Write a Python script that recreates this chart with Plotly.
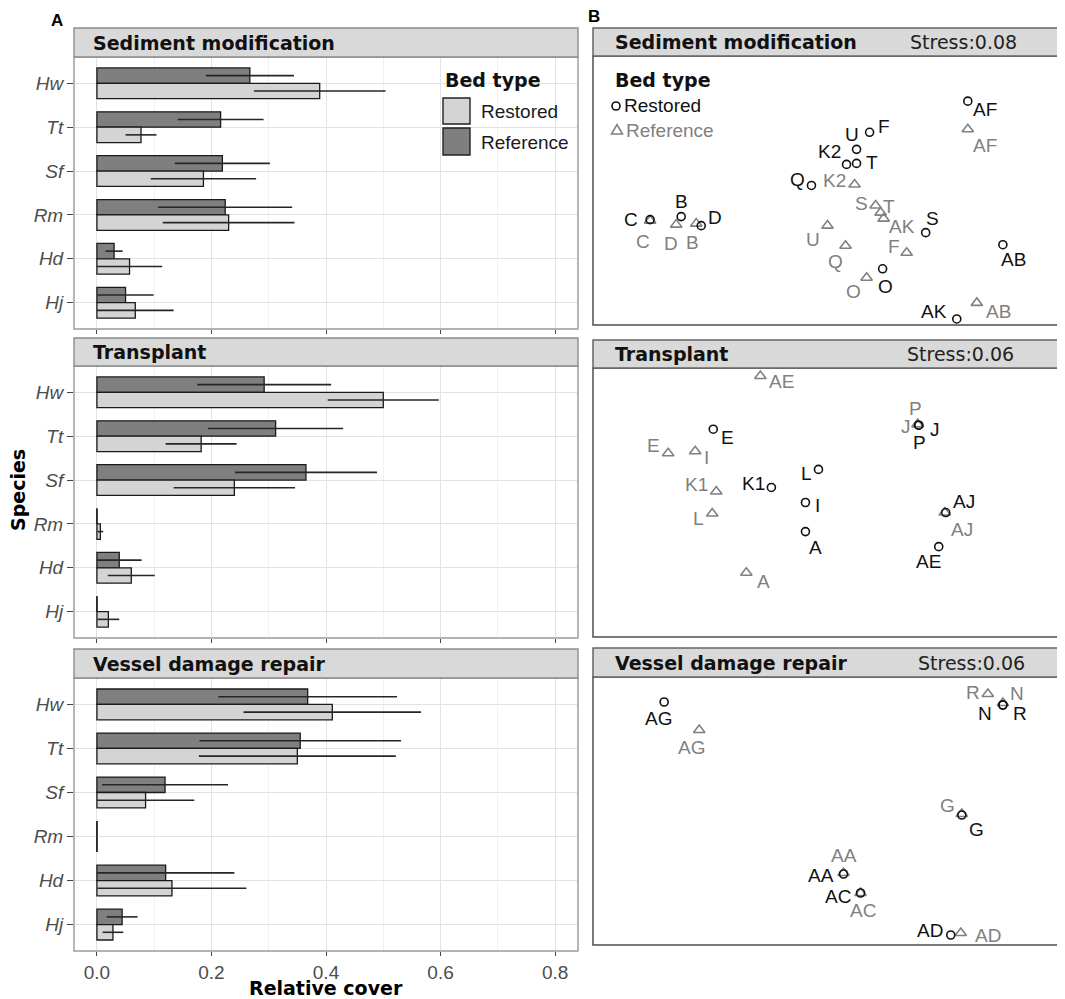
import plotly.graph_objects as go

# ---------------- data ----------------
species = ["Hw", "Tt", "Sf", "Rm", "Hd", "Hj"]
panels = ["Sediment modification", "Transplant", "Vessel damage repair"]
stress = ["Stress:0.08", "Stress:0.06", "Stress:0.06"]

ref_sed = [0.267, 0.216, 0.219, 0.224, 0.030, 0.050]
ref_sed_se = [0.077, 0.075, 0.083, 0.117, 0.015, 0.049]
rest_sed = [0.389, 0.077, 0.186, 0.230, 0.057, 0.067]
rest_sed_se = [0.115, 0.027, 0.092, 0.115, 0.057, 0.067]

ref_tra = [0.292, 0.312, 0.365, 0.0, 0.039, 0.0]
ref_tra_se = [0.117, 0.118, 0.124, 0.0, 0.039, 0.0]
rest_tra = [0.500, 0.182, 0.240, 0.006, 0.060, 0.020]
rest_tra_se = [0.097, 0.062, 0.106, 0.005, 0.041, 0.019]

ref_ves = [0.368, 0.355, 0.119, 0.0, 0.120, 0.044]
ref_ves_se = [0.156, 0.176, 0.110, 0.0, 0.120, 0.027]
rest_ves = [0.411, 0.350, 0.085, 0.0, 0.131, 0.028]
rest_ves_se = [0.155, 0.172, 0.085, 0.0, 0.130, 0.018]

# NMDS site scores
sed_rest_lab = ["AF", "F", "U", "K2", "T", "Q", "B", "D", "C", "S", "AB", "O", "AK"]
sed_rest_x = [1.40, 0.42, 0.29, 0.19, 0.29, -0.16, -1.46, -1.26, -1.77, 0.98, 1.75, 0.55, 1.29]
sed_rest_y = [0.89, 0.58, 0.41, 0.26, 0.27, 0.05, -0.26, -0.35, -0.29, -0.42, -0.54, -0.78, -1.28]
sed_ref_lab = ["AF", "K2", "S", "T", "AK", "C", "D", "B", "U", "Q", "F", "O", "AB"]
sed_ref_x = [1.40, 0.27, 0.48, 0.53, 0.56, -1.77, -1.51, -1.31, 0.00, 0.18, 0.79, 0.39, 1.49]
sed_ref_y = [0.61, 0.06, -0.15, -0.22, -0.28, -0.30, -0.34, -0.33, -0.35, -0.55, -0.62, -0.87, -1.12]

tra_rest_lab = ["E", "K1", "L", "I", "A", "J", "P", "AJ", "AE"]
tra_rest_x = [-1.14, -0.56, -0.09, -0.22, -0.22, 0.91, 0.91, 1.18, 1.11]
tra_rest_y = [0.73, 0.15, 0.33, 0.00, -0.29, 0.77, 0.77, -0.10, -0.44]
tra_ref_lab = ["AE", "E", "I", "K1", "L", "A", "J", "P", "AJ"]
tra_ref_x = [-0.67, -1.59, -1.32, -1.11, -1.15, -0.81, 0.90, 0.90, 1.17]
tra_ref_y = [1.26, 0.49, 0.51, 0.11, -0.11, -0.70, 0.78, 0.78, -0.10]

ves_rest_lab = ["AG", "N", "R", "G", "AA", "AC", "AD"]
ves_rest_x = [-1.63, 1.75, 1.75, 1.34, 0.16, 0.33, 1.23]
ves_rest_y = [1.09, 1.06, 1.06, -0.04, -0.63, -0.82, -1.24]
ves_ref_lab = ["AG", "R", "N", "G", "AA", "AC", "AD"]
ves_ref_x = [-1.28, 1.60, 1.75, 1.34, 0.16, 0.33, 1.33]
ves_ref_y = [0.81, 1.17, 1.08, -0.03, -0.62, -0.82, -1.22]

# label nudges in pixels (dx right, dy down) - repel-style placement
sed_rest_nudge = [(17, 8), (14, -6), (-5, -15), (-17, -13), (15, -1), (-14, -6), (0, -15),
                  (14, -8), (-19, 0), (7, -14), (11, 15), (3, 18), (-23, -7)]
sed_ref_nudge = [(17, 16), (-20, -4), (-14, -2), (8, -6), (18, 8), (-7, 21), (-5, 19),
                 (-4, 19), (-15, 14), (-10, 16), (-13, -6), (-13, 14), (22, 9)]
tra_rest_nudge = [(14, 8), (-18, -4), (-12, 4), (12, 3), (10, 16), (16, 4), (1, 17), (18, -11), (-10, 15)]
tra_ref_nudge = [(21, 5), (-15, -8), (11, 6), (-20, -7), (-14, 5), (17, 9), (-12, 2), (-2, -16), (17, 17)]
ves_rest_nudge = [(-6, 16), (-18, 8), (17, 8), (15, 14), (-23, 1), (-23, 3), (-21, -5)]
ves_ref_nudge = [(-8, 17), (-15, -2), (14, -10), (-14, -9), (0, -18), (2, 17), (27, 2)]

# ---------------- style ----------------
# the page body keeps the browser's default 8px margin, so the figure is drawn
# 8px smaller and all page-pixel positions are shifted by that margin
PAGE_W, PAGE_H, M = 1065, 999, 8
W, H = PAGE_W - M, PAGE_H - M
def fx(x): return (x - M) / W
def fy(y): return 1 - (y - M) / H

LIGHT = "#D4D4D4"
DARK = "#7F7F7F"
GRAYTXT = "#808080"
SANS = "Liberation Sans, Arial, sans-serif"
VERD = "DejaVu Sans, Verdana, sans-serif"
BW = 0.35

left_x = (74, 578)
left_plot = [(57, 329), (366, 638), (678, 951)]
left_strip = [(28, 57), (338, 366), (649, 678)]
right_x = (593, 1062)
right_plot = [(56, 325), (368, 637), (677, 945)]
right_strip = [(28, 56), (340, 368), (648, 677)]
stress_cx = [963, 960, 971]

fig = go.Figure()
shapes, ann = [], []

bars = [(ref_sed, ref_sed_se, rest_sed, rest_sed_se),
        (ref_tra, ref_tra_se, rest_tra, rest_tra_se),
        (ref_ves, ref_ves_se, rest_ves, rest_ves_se)]
pos = list(range(len(species)))

for i, (rv, rse, sv, sse) in enumerate(bars):
    xa = "x" if i == 0 else f"x{i+1}"
    ya = "y" if i == 0 else f"y{i+1}"
    fig.add_trace(go.Bar(x=rv, y=pos, orientation="h", width=BW, offset=-BW,
                         marker=dict(color=DARK, line=dict(color="#1a1a1a", width=1.3)),
                         xaxis=xa, yaxis=ya, showlegend=False, hoverinfo="skip"))
    fig.add_trace(go.Bar(x=sv, y=pos, orientation="h", width=BW, offset=0,
                         marker=dict(color=LIGHT, line=dict(color="#1a1a1a", width=1.3)),
                         xaxis=xa, yaxis=ya, showlegend=False, hoverinfo="skip"))
    ex, ey, zx, zy = [], [], [], []
    for k in pos:
        for v, e, yc, y0, y1 in ((rv[k], rse[k], k - BW / 2, k - BW, k),
                                 (sv[k], sse[k], k + BW / 2, k, k + BW)):
            if e > 0:
                ex += [max(0, v - e), v + e, None]
                ey += [yc, yc, None]
            if v == 0:
                zx += [0, 0, None]
                zy += [y0, y1, None]
    fig.add_trace(go.Scatter(x=ex, y=ey, mode="lines", line=dict(color="#262626", width=1.6),
                             xaxis=xa, yaxis=ya, showlegend=False, hoverinfo="skip"))
    if zx:
        fig.add_trace(go.Scatter(x=zx, y=zy, mode="lines", line=dict(color="#262626", width=1.6),
                                 xaxis=xa, yaxis=ya, showlegend=False, hoverinfo="skip"))

nmds = [
    (sed_rest_x, sed_rest_y, sed_rest_lab, sed_rest_nudge, sed_ref_x, sed_ref_y, sed_ref_lab, sed_ref_nudge),
    (tra_rest_x, tra_rest_y, tra_rest_lab, tra_rest_nudge, tra_ref_x, tra_ref_y, tra_ref_lab, tra_ref_nudge),
    (ves_rest_x, ves_rest_y, ves_rest_lab, ves_rest_nudge, ves_ref_x, ves_ref_y, ves_ref_lab, ves_ref_nudge),
]
for i, (rx, ry, rl, rn, qx, qy, ql, qn) in enumerate(nmds):
    xa, ya = f"x{i+4}", f"y{i+4}"
    fig.add_trace(go.Scatter(x=qx, y=qy, mode="markers",
                             marker=dict(symbol="triangle-up-open", size=10, color=GRAYTXT,
                                         line=dict(width=1.6, color=GRAYTXT)),
                             xaxis=xa, yaxis=ya, showlegend=False, hoverinfo="skip", cliponaxis=False))
    fig.add_trace(go.Scatter(x=rx, y=ry, mode="markers",
                             marker=dict(symbol="circle-open", size=8, color="#111",
                                         line=dict(width=1.6, color="#111")),
                             xaxis=xa, yaxis=ya, showlegend=False, hoverinfo="skip", cliponaxis=False))
    for xs_, ys_, ls_, ns_, col in ((qx, qy, ql, qn, GRAYTXT), (rx, ry, rl, rn, "#111")):
        for x, y, l, (dx, dy) in zip(xs_, ys_, ls_, ns_):
            ann.append(dict(x=x, y=y, xref=xa, yref=ya, text=l, showarrow=False,
                            xanchor="center", yanchor="middle", xshift=dx, yshift=-dy,
                            font=dict(family=SANS, size=19, color=col)))

layout = dict(width=W, height=H, margin=dict(l=0, r=0, t=0, b=0),
              paper_bgcolor="white", plot_bgcolor="white", barmode="overlay",
              font=dict(family=SANS, size=19, color="#4D4D4D"))

for i in range(3):
    xs = "xaxis" if i == 0 else f"xaxis{i+1}"
    ys = "yaxis" if i == 0 else f"yaxis{i+1}"
    t, b = left_plot[i]
    layout[xs] = dict(domain=[fx(left_x[0]), fx(left_x[1])], range=[-0.04, 0.84],
                      tick0=0, dtick=0.2, tickformat=".1f", showgrid=True, gridcolor="#E3E3E3", gridwidth=1,
                      minor=dict(dtick=0.1, showgrid=True, gridcolor="#F1F1F1", gridwidth=0.8),
                      ticks="outside", ticklen=4, tickcolor="#444", tickwidth=1,
                      showticklabels=(i == 2), zeroline=False, showline=False,
                      tickfont=dict(family=SANS, size=19, color="#4D4D4D"),
                      anchor="y" if i == 0 else f"y{i+1}")
    layout[ys] = dict(domain=[fy(b), fy(t)], range=[5.6, -0.6],
                      tickvals=pos, ticktext=[f"<i>{s}</i>" for s in species],
                      showgrid=True, gridcolor="#E3E3E3", gridwidth=1, zeroline=False,
                      ticks="outside", ticklen=6, tickcolor="#444", tickwidth=1,
                      tickfont=dict(family=SANS, size=19, color="#4D4D4D"),
                      anchor="x" if i == 0 else f"x{i+1}")
    shapes.append(dict(type="rect", xref="paper", yref="paper", x0=fx(left_x[0]), x1=fx(left_x[1]),
                       y0=fy(b), y1=fy(t), line=dict(color="#9A9A9A", width=1.4)))
    st, sb = left_strip[i]
    shapes.append(dict(type="rect", xref="paper", yref="paper", x0=fx(left_x[0]), x1=fx(left_x[1]),
                       y0=fy(sb), y1=fy(st), fillcolor="#D9D9D9", line=dict(color="#8C8C8C", width=1.4)))
    ann.append(dict(text=f"<b>{panels[i]}</b>", xref="paper", yref="paper", x=fx(91), y=fy((st + sb) / 2),
                    xanchor="left", yanchor="middle", showarrow=False,
                    font=dict(family=VERD, size=19, color="#111")))

    # right panels
    t, b = right_plot[i]
    layout[f"xaxis{i+4}"] = dict(domain=[fx(right_x[0]), fx(right_x[1])], range=[-2.34, 2.34],
                                 visible=False, anchor=f"y{i+4}")
    layout[f"yaxis{i+4}"] = dict(domain=[fy(b), fy(t)], range=[-1.34, 1.34],
                                 visible=False, anchor=f"x{i+4}")
    shapes.append(dict(type="rect", xref="paper", yref="paper", x0=fx(right_x[0]), x1=fx(right_x[1]),
                       y0=fy(b), y1=fy(t), line=dict(color="#4D4D4D", width=1.5)))
    st, sb = right_strip[i]
    shapes.append(dict(type="rect", xref="paper", yref="paper", x0=fx(right_x[0]), x1=fx(right_x[1]),
                       y0=fy(sb), y1=fy(st), fillcolor="#D9D9D9", line=dict(color="#666666", width=1.5)))
    ann.append(dict(text=f"<b>{panels[i]}</b>", xref="paper", yref="paper", x=fx(613), y=fy((st + sb) / 2),
                    xanchor="left", yanchor="middle", showarrow=False,
                    font=dict(family=VERD, size=19, color="#111")))
    ann.append(dict(text=stress[i], xref="paper", yref="paper", x=fx(stress_cx[i]), y=fy((st + sb) / 2),
                    xanchor="center", yanchor="middle", showarrow=False,
                    font=dict(family=VERD, size=19, color="#222")))

# left legend
ann.append(dict(text="<b>Bed type</b>", xref="paper", yref="paper", x=fx(443), y=fy(80),
                xanchor="left", yanchor="middle", showarrow=False, font=dict(family=VERD, size=19, color="#111")))
shapes.append(dict(type="rect", xref="paper", yref="paper", x0=fx(443), x1=fx(470), y0=fy(124), y1=fy(98),
                   fillcolor=LIGHT, line=dict(color="#222", width=1.4)))
shapes.append(dict(type="rect", xref="paper", yref="paper", x0=fx(443), x1=fx(470), y0=fy(155), y1=fy(128),
                   fillcolor=DARK, line=dict(color="#222", width=1.4)))
ann.append(dict(text="Restored", xref="paper", yref="paper", x=fx(479), y=fy(112),
                xanchor="left", yanchor="middle", showarrow=False, font=dict(family=SANS, size=19, color="#1a1a1a")))
ann.append(dict(text="Reference", xref="paper", yref="paper", x=fx(479), y=fy(142),
                xanchor="left", yanchor="middle", showarrow=False, font=dict(family=SANS, size=19, color="#1a1a1a")))

# right legend
ann.append(dict(text="<b>Bed type</b>", xref="paper", yref="paper", x=fx(613), y=fy(80),
                xanchor="left", yanchor="middle", showarrow=False, font=dict(family=VERD, size=19, color="#111")))
shapes.append(dict(type="circle", xref="paper", yref="paper", x0=fx(612), x1=fx(620), y0=fy(110), y1=fy(102),
                   line=dict(color="#111", width=1.6)))
tri = f"M {fx(611.5)} {fy(134)} L {fx(622.5)} {fy(134)} L {fx(617)} {fy(124.5)} Z"
shapes.append(dict(type="path", xref="paper", yref="paper", path=tri, line=dict(color=GRAYTXT, width=1.6)))
ann.append(dict(text="Restored", xref="paper", yref="paper", x=fx(622), y=fy(106),
                xanchor="left", yanchor="middle", showarrow=False, font=dict(family=SANS, size=19, color="#111")))
ann.append(dict(text="Reference", xref="paper", yref="paper", x=fx(624), y=fy(130),
                xanchor="left", yanchor="middle", showarrow=False, font=dict(family=SANS, size=19, color=GRAYTXT)))

# panel letters and axis titles
ann.append(dict(text="<b>A</b>", xref="paper", yref="paper", x=fx(57), y=fy(20), xanchor="center", yanchor="middle",
                showarrow=False, font=dict(family=SANS, size=17, color="#000")))
ann.append(dict(text="<b>B</b>", xref="paper", yref="paper", x=fx(594), y=fy(16), xanchor="center", yanchor="middle",
                showarrow=False, font=dict(family=SANS, size=17, color="#000")))
ann.append(dict(text="<b>Species</b>", xref="paper", yref="paper", x=fx(18), y=fy(490), xanchor="center",
                yanchor="middle", textangle=-90, showarrow=False, font=dict(family=VERD, size=19, color="#000")))
ann.append(dict(text="<b>Relative cover</b>", xref="paper", yref="paper", x=fx(326), y=fy(988), xanchor="center",
                yanchor="middle", showarrow=False, font=dict(family=VERD, size=19, color="#000")))

layout["shapes"] = shapes
layout["annotations"] = ann
fig.update_layout(**layout)
fig.write_html("out.html")
